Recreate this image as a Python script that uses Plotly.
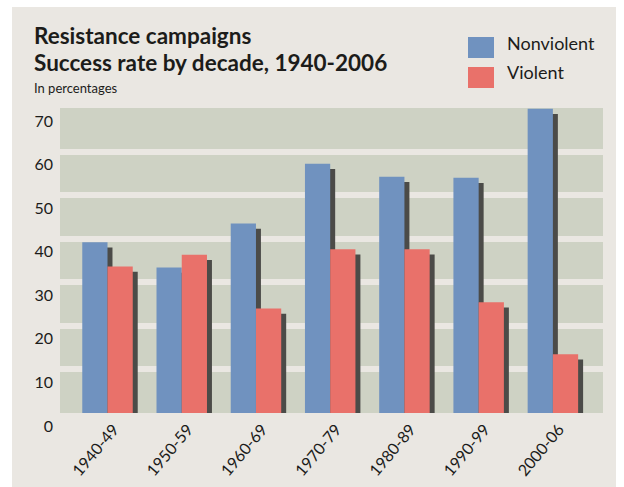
import plotly.graph_objects as go

# ---- data ----
decades = ["1940-49", "1950-59", "1960-69", "1970-79", "1980-89", "1990-99", "2000-06"]
nonviolent = [39.2, 33.4, 43.5, 57.2, 54.2, 54.0, 69.8]
violent = [33.6, 36.3, 24.0, 37.6, 37.6, 25.4, 13.5]
series_names = ["Nonviolent", "Violent"]
y_ticks = [0, 10, 20, 30, 40, 50, 60, 70]
grid_ticks = [10, 20, 30, 40, 50, 60]
title_lines = ["Resistance campaigns", "Success rate by decade, 1940-2006"]
subtitle = "In percentages"

# ---- style ----
BLUE = "#7092BF"
RED = "#E9716A"
SHADOW = "#4B4B48"
PANEL = "#EAE7E2"
BAND = "#CED2C4"
TEXT = "#1C1C1A"
FONT = "Lato"
BAR_W = 0.34
SH_DX = 0.067
SH_DROP = 1.2


def px_x(p):  # pixel -> paper x (plot area 60..603)
    return (p - 60) / 543


def px_y(p):  # pixel -> paper y (plot area 108..413)
    return (413 - p) / 305


fig = go.Figure()

# shadows
for vals, off in ((nonviolent, -BAR_W + SH_DX), (violent, SH_DX)):
    fig.add_trace(go.Bar(x=decades, y=[v - SH_DROP for v in vals], base=0,
                         offset=off, width=BAR_W, marker_color=SHADOW,
                         marker_line_width=0, showlegend=False, hoverinfo="skip"))

# bars
for vals, off, col, name in ((nonviolent, -BAR_W, BLUE, series_names[0]),
                             (violent, 0.0, RED, series_names[1])):
    fig.add_trace(go.Bar(x=decades, y=vals, offset=off, width=BAR_W, name=name,
                         marker_color=col, marker_line_width=0, showlegend=False))

# helper trace for grid axis
fig.add_trace(go.Scatter(x=decades, y=[None] * len(decades), yaxis="y2",
                         showlegend=False, hoverinfo="skip"))

title_html = "<b>" + "<br>".join(
    "<span style='font-size:22.5px'>%s</span>" % t for t in title_lines) + "</b>"

fig.update_layout(
    width=624, height=487,
    margin=dict(l=60, r=21, t=108, b=74, pad=0, autoexpand=False),
    paper_bgcolor="white", plot_bgcolor="rgba(0,0,0,0)",
    barmode="overlay",
    font=dict(family=FONT, color=TEXT, size=15),
    xaxis=dict(type="category", range=[-0.64, 6.675], showgrid=False, zeroline=False,
               showline=False, ticks="", tickangle=-50, tickfont=dict(size=16),
               ticklabelstandoff=3, ticklabelshift=6, automargin=False),
    yaxis=dict(range=[0, 70], tickvals=y_ticks, showgrid=False, zeroline=False,
               showline=False, ticks="", tickfont=dict(size=16),
               ticklabelshift=13, ticklabelstandoff=6, automargin=False),
    yaxis2=dict(range=[0, 70], overlaying="y", tickvals=grid_ticks, showgrid=True,
                gridcolor=PANEL, gridwidth=6, showticklabels=False, zeroline=False,
                showline=False, ticks="", automargin=False),
    shapes=[
        dict(type="rect", xref="paper", yref="paper", x0=px_x(12), x1=px_x(616),
             y0=px_y(500), y1=px_y(7), fillcolor=PANEL, line_width=0, layer="below"),
        dict(type="rect", xref="paper", yref="paper", x0=0, x1=1, y0=0, y1=1,
             fillcolor=BAND, line_width=0, layer="below"),
        dict(type="rect", xref="paper", yref="paper", x0=px_x(468), x1=px_x(494),
             y0=px_y(58), y1=px_y(37), fillcolor=BLUE, line_width=0),
        dict(type="rect", xref="paper", yref="paper", x0=px_x(468), x1=px_x(494),
             y0=px_y(88), y1=px_y(67), fillcolor=RED, line_width=0),
    ],
    annotations=[
        dict(text=title_html, xref="paper", yref="paper",
             x=px_x(32), y=px_y(20), xanchor="left", yanchor="top", align="left",
             showarrow=False, font=dict(size=21)),
        dict(text=subtitle, xref="paper", yref="paper", x=px_x(32), y=px_y(78),
             xanchor="left", yanchor="top", showarrow=False, font=dict(size=13)),
        dict(text=series_names[0], xref="paper", yref="paper", x=px_x(505), y=px_y(43),
             xanchor="left", yanchor="middle", showarrow=False, font=dict(size=18)),
        dict(text=series_names[1], xref="paper", yref="paper", x=px_x(505), y=px_y(72),
             xanchor="left", yanchor="middle", showarrow=False, font=dict(size=18)),
    ],
)

fig.write_html("out.html", config={"displayModeBar": False},
               post_script="document.body.style.margin='0';document.body.style.overflow='hidden';")
